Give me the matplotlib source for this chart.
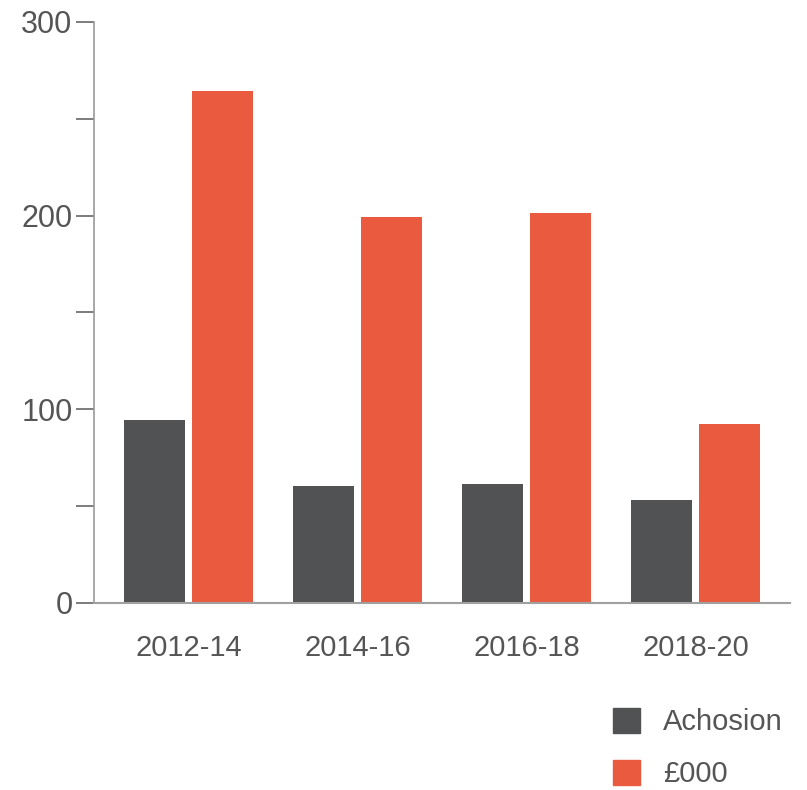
import numpy as np
import matplotlib.patches as mpatches
from matplotlib import pyplot as plt

categories = ["2012-14", "2014-16", "2016-18", "2018-20"]
achosion = [94.5, 60.4, 61.4, 53.2]
thousands = [264.3, 199.3, 201.3, 92.4]
series_names = ["Achosion", "£000"]

DARK = "#515254"
RED = "#e95a3f"
TEXT = "#555555"

plt.rcParams['font.family'] = ['Liberation Sans', 'DejaVu Sans']


def main():
    fig = plt.figure(figsize=(8.07, 7.90), dpi=100)
    ax = fig.add_axes([94 / 807, 187 / 790, 696 / 807, 581 / 790])

    x = np.arange(len(categories))
    w = 0.361
    off = 0.201
    ax.bar(x - off, achosion, width=w, color=DARK, zorder=2)
    ax.bar(x + off, thousands, width=w, color=RED, zorder=2)

    ax.set_xlim(-0.559, len(categories) - 1 + 0.559)
    ax.set_ylim(0, 300)
    ax.set_yticks([0, 100, 200, 300])
    ax.set_yticks([50, 150, 250], minor=True)
    ax.set_xticks(x)
    ax.set_xticklabels(categories)

    for s in ["top", "right"]:
        ax.spines[s].set_visible(False)
    ax.spines["left"].set_color("#999999")
    ax.spines["bottom"].set_color("#a0a0a0")
    ax.spines["left"].set_linewidth(1.2)
    ax.spines["bottom"].set_linewidth(1.5)

    ax.tick_params(axis="y", which="both", length=13, width=1.2, color="#666666",
                   labelsize=22, labelcolor=TEXT, pad=2.5)
    ax.tick_params(axis="x", length=0, labelsize=21, labelcolor=TEXT, pad=22)

    handles = [mpatches.Patch(color=DARK, label=series_names[0]),
               mpatches.Patch(color=RED, label=series_names[1])]
    leg = fig.legend(handles=handles, loc="upper left",
                     bbox_to_anchor=(613 / 807, (790 - 708) / 790),
                     frameon=False, fontsize=21, borderpad=0, borderaxespad=0,
                     handlelength=0.93, handleheight=0.93, handletextpad=0.78,
                     labelspacing=0.8)
    for t in leg.get_texts():
        t.set_color(TEXT)

    fig.savefig("out.png", dpi=100)


if __name__ == '__main__':
    main()
